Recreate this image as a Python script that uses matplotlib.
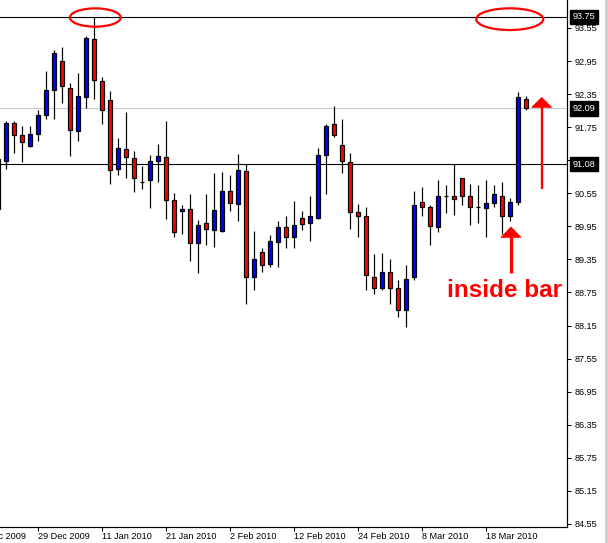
import matplotlib
matplotlib.use("Agg")
import matplotlib.pyplot as plt
from matplotlib.patches import Ellipse, Polygon, Rectangle
from matplotlib.transforms import blended_transform_factory
import numpy as np

# ---- data (daily candles, bar index -1 .. 65) ----
bar_index = list(range(-1, 66))
opens = [90.27, 91.14, 91.82, 91.60, 91.41, 91.62, 91.98, 92.42, 92.96, 92.47,
         91.68, 92.29, 93.35, 92.58, 92.24, 90.99, 91.35, 91.19, 90.76, 90.79,
         91.13, 91.20, 90.42, 90.22, 90.26, 89.64, 90.01, 89.89, 89.86, 90.59,
         90.36, 90.95, 89.03, 89.48, 89.26, 89.66, 89.93, 89.75, 90.10, 90.01,
         90.11, 91.24, 91.80, 91.42, 91.11, 90.21, 90.13, 89.04, 88.84, 89.12,
         88.83, 88.44, 89.03, 90.39, 90.31, 89.93, 90.50, 90.51, 90.82, 90.51,
         90.31, 90.28, 90.37, 90.50, 90.13, 90.40, 92.27]
closes = [91.17, 91.82, 91.61, 91.49, 91.62, 91.98, 92.42, 93.09, 92.49, 91.69,
          92.31, 93.36, 92.60, 92.07, 90.97, 91.37, 91.20, 90.82, 90.76, 91.13,
          91.22, 90.42, 89.84, 90.26, 89.64, 89.98, 89.91, 90.24, 90.60, 90.37,
          90.97, 89.03, 89.36, 89.24, 89.68, 89.93, 89.75, 89.97, 89.99, 90.13,
          91.24, 91.78, 91.60, 91.13, 90.21, 90.13, 89.06, 88.83, 89.12, 88.84,
          88.44, 88.99, 90.33, 90.30, 89.95, 90.50, 90.50, 90.44, 90.51, 90.30,
          90.31, 90.37, 90.53, 90.13, 90.39, 92.29, 92.09]
highs = [91.21, 91.86, 91.86, 91.77, 91.77, 92.07, 92.77, 93.15, 93.21, 92.55,
         92.73, 93.40, 93.75, 92.66, 92.40, 91.55, 92.02, 91.31, 91.05, 91.25,
         91.44, 91.86, 90.55, 90.33, 90.53, 90.06, 90.53, 90.91, 90.93, 90.89,
         91.26, 91.08, 89.87, 89.55, 89.80, 90.05, 90.14, 90.41, 90.22, 90.50,
         91.37, 91.81, 92.13, 91.90, 91.28, 90.35, 90.31, 89.45, 89.46, 89.35,
         88.97, 89.24, 90.59, 90.66, 90.33, 90.80, 90.70, 91.08, 90.83, 90.71,
         90.70, 90.79, 90.70, 90.75, 90.46, 92.38, 92.31]
lows = [90.21, 90.99, 91.29, 91.11, 91.39, 91.50, 91.89, 91.90, 92.18, 91.23,
        91.50, 92.09, 92.27, 91.80, 90.71, 90.89, 90.82, 90.58, 90.62, 90.29,
        90.76, 90.09, 89.76, 89.81, 89.33, 89.11, 89.62, 89.57, 89.84, 90.23,
        90.04, 88.54, 88.80, 89.13, 89.22, 89.22, 89.55, 89.56, 89.89, 89.69,
        90.08, 90.54, 91.58, 90.92, 89.91, 89.75, 88.79, 88.73, 88.79, 88.54,
        88.30, 88.12, 88.97, 90.13, 89.62, 89.84, 90.19, 90.15, 90.33, 89.97,
        90.02, 89.75, 90.30, 89.82, 90.04, 90.33, 92.06]

date_tick_index = [-4, 4, 12, 20, 28, 36, 44, 52, 60]
date_labels = ["16 Dec 2009", "29 Dec 2009", "11 Jan 2010", "21 Jan 2010",
               "2 Feb 2010", "12 Feb 2010", "24 Feb 2010", "8 Mar 2010",
               "18 Mar 2010"]
price_ticks = [84.55, 85.15, 85.75, 86.35, 86.95, 87.55, 88.15, 88.75, 89.35,
               89.95, 90.55, 91.15, 91.75, 92.35, 92.95, 93.55]
level_lines = [93.75, 91.08]
bid_price = 92.09

# ---- figure ----
W, H = 608, 543
fig = plt.figure(figsize=(W / 100, H / 100), dpi=100)
fig.patch.set_facecolor("white")
ax = fig.add_axes([0, (H - 527) / H, 567 / W, 527 / H])
ax.set_facecolor("white")

PX = 0.72  # 1 pixel in points
ax.set_xlim(-0.7875, 70.09)
ax.set_ylim(84.494, 94.058)

# level lines
for lv in level_lines:
    ax.axhline(lv, color="black", lw=1.1 * PX, zorder=1)
ax.axhline(bid_price, color="#c4cad2", lw=1.1 * PX, zorder=1)

# candles
x = np.array(bar_index, dtype=float)
o = np.array(opens); c = np.array(closes)
hi = np.array(highs); lo = np.array(lows)
colors = np.where(c > o, "#0000ff", np.where(c < o, "#ff0000", "black"))
ax.vlines(x, lo, hi, color="black", lw=1.2 * PX, zorder=2)
ax.bar(x, c - o, bottom=o, width=0.52, color=colors, edgecolor="black",
       linewidth=1.2 * PX, zorder=3)

# spines & axes
for s in ["left", "top"]:
    ax.spines[s].set_visible(False)
for s in ["right", "bottom"]:
    ax.spines[s].set_color("black")
    ax.spines[s].set_linewidth(1.2 * PX)

FONT = "Liberation Sans"
ax.yaxis.tick_right()
ax.set_yticks(price_ticks)
ax.set_yticklabels([f"{v:.2f}" for v in price_ticks], fontsize=6.6,
                   family=FONT, color="black")
ax.tick_params(axis="y", direction="out", length=3, width=PX, pad=2.5,
               colors="black")

vis_ticks = [t for t in date_tick_index if -0.7875 <= t <= 70.09]
ax.set_xticks(vis_ticks)
ax.set_xticklabels([""] * len(vis_ticks))
ax.tick_params(axis="x", direction="out", length=3, width=PX, colors="black")

for pos, lab in zip(date_tick_index, date_labels):
    ax.annotate(lab, xy=(pos, 0), xycoords=("data", "axes fraction"),
                xytext=(0, -5), textcoords="offset pixels", ha="left",
                va="top", fontsize=6.6, family=FONT, color="black",
                annotation_clip=False)

# highlighted price boxes on the right axis
trans = blended_transform_factory(ax.transAxes, ax.transData)
for lv in [93.75, bid_price, 91.08]:
    ax.text(573 / 567, lv, f"{lv:.2f}", transform=trans, ha="left",
            va="center", fontsize=6.6, family=FONT, color="white",
            zorder=10, clip_on=False,
            bbox=dict(boxstyle="square,pad=0.28", facecolor="black",
                      edgecolor="black"))

# annotations: ellipses
for (cx, cy, w, h) in [(11.125, 93.74, 6.34, 0.332), (62.93, 93.71, 8.375, 0.394)]:
    ax.add_patch(Ellipse((cx, cy), w, h, fill=False, edgecolor="#ff0000",
                         lw=1.6, zorder=6, clip_on=False))

# arrow 1 (inside bar)
ax.add_patch(Polygon([[63.09, 89.94], [61.84, 89.75], [64.34, 89.75]],
                     closed=True, facecolor="#ff0000", edgecolor="#ff0000",
                     lw=0.5, zorder=6))
ax.plot([63.09, 63.09], [89.76, 89.10], color="#ff0000", lw=2.3, zorder=6,
        solid_capstyle="butt")
# arrow 2 (upward)
ax.add_patch(Polygon([[66.93, 92.29], [65.68, 92.11], [68.18, 92.11]],
                     closed=True, facecolor="#ff0000", edgecolor="#ff0000",
                     lw=0.5, zorder=6))
ax.plot([66.93, 66.93], [92.12, 90.62], color="#ff0000", lw=1.7, zorder=6,
        solid_capstyle="butt")

ax.text(55.05, 88.67, "inside bar", color="#ff0000", fontsize=17.5,
        fontweight="bold", family=FONT, ha="left", va="baseline", zorder=7)

# window border strip at far right
fig.patches.append(Rectangle((605 / W, 0), 3 / W, 1, transform=fig.transFigure,
                             facecolor="#d4d0c8", edgecolor="none"))

fig.savefig("out.png", dpi=100, facecolor="white")
